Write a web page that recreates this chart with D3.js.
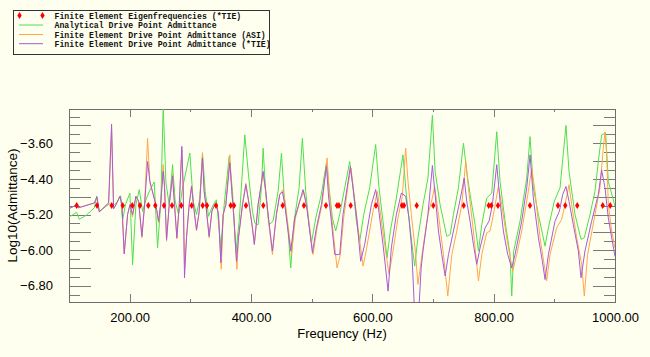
<!DOCTYPE html>
<html>
<head>
<meta charset="utf-8">
<script src="https://cdn.jsdelivr.net/npm/d3@7"></script>
<style>
  html, body { margin: 0; padding: 0; background: #ffffef; }
  svg { display: block; }
</style>
</head>
<body>
<svg id="chart" width="650" height="357"></svg>
<script>
// ---------------- data ----------------
const eigenFreqs = [112.7,146.2,170.4,188.5,204.3,217,230.7,242.2,256.6,269.8,285.1,302.2,320.4,327.5,342.3,366.5,372,391.7,420.3,452.2,487.3,523.6,541.7,545,564.3,606,648.9,652.2,673.1,700.5,750.6,791.8,796.1,807.1,859.8,906,918,937.8,979.7,992.2];
const eigenLevel = -5.0;

const analyticalDPA = [[100,-5.26],[112.6,-5.15],[116.9,-5.31],[128,-5.22],[141.7,-5.05],[145.6,-4.79],[150,-5.13],[166.4,-4.96],[174.6,-4.99],[180.1,-4.9],[185.2,-4.78],[188.3,-5.33],[193,-4.98],[200.4,-4.72],[204.8,-6.33],[210.3,-4.98],[215.8,-4.64],[221.3,-5.13],[226.8,-4.87],[232.3,-4.68],[240.5,-4.47],[246,-5.95],[251.5,-4.9],[255.3,-2.78],[259.8,-4.49],[265.2,-4.98],[270.7,-4.08],[275,-4.9],[280.6,-5.2],[287.2,-4.6],[299.2,-3.82],[304.7,-4.9],[310.2,-5.2],[315.7,-4.83],[320.1,-3.84],[324.5,-4.68],[330,-5.24],[336.6,-5.01],[343.1,-4.87],[350.3,-5.95],[355.8,-4.98],[364,-3.9],[369.5,-4.68],[375,-6.06],[380.5,-5.35],[389.8,-3.41],[395.9,-4.31],[402.4,-5.13],[406.2,-5.39],[411.7,-5.43],[417.2,-4.6],[420,-3.71],[424.4,-4.75],[429.8,-5.43],[436.4,-5.35],[444.7,-4.68],[450.2,-3.82],[454.5,-4.75],[461.1,-5.57],[465.5,-6.4],[471,-5.35],[479.3,-4.6],[484.7,-3.49],[490.2,-4.68],[495.7,-5.43],[499.6,-5.84],[506.7,-5.28],[516,-4.75],[524.3,-4.04],[528.7,-4.6],[534.2,-5.28],[539.6,-5.57],[546.2,-5.2],[554.5,-4.6],[562.7,-4.01],[568.2,-4.6],[573.7,-5.35],[579.2,-5.8],[585.8,-5.2],[595.6,-4.6],[605.5,-3.63],[611,-4.6],[617.6,-5.35],[624.2,-6.17],[629.7,-5.57],[639.6,-4.83],[650.5,-3.86],[656,-4.75],[661.5,-5.43],[669.8,-6.36],[675.2,-5.72],[683.5,-4.98],[691.7,-4.38],[699,-2.97],[703.5,-4.23],[711.7,-4.98],[722.7,-5.69],[728.2,-5.65],[733.7,-5.2],[741.9,-4.6],[750.2,-3.6],[755.6,-4.23],[761.1,-4.75],[769.4,-5.43],[774.9,-6.02],[780.4,-5.43],[788.6,-4.83],[796.8,-4.72],[805.1,-3.34],[810.5,-4.46],[818.8,-5.35],[827,-6.1],[829.8,-7.03],[833.1,-6.02],[843.5,-5.35],[854.5,-4.38],[860,-3.45],[865.4,-4.6],[873.7,-5.2],[884.7,-5.91],[890.2,-5.5],[900,-4.9],[909.4,-4.6],[919.2,-3.2],[924.2,-4.23],[934.1,-5.2],[944,-5.76],[949.4,-5.72],[958.8,-5.2],[967,-4.68],[972.5,-4.01],[978,-3.41],[984.6,-3.37],[989,-4.46],[1000,-5.01]];

const feASI = [[100,-5.07],[111.5,-4.99],[115.3,-5.05],[141.7,-4.94],[146,-4.83],[150,-5.14],[165.3,-4.94],[170.2,-3.3],[173.5,-5.07],[177.4,-4.98],[184,-4.79],[187.2,-4.98],[191,-6.08],[196.6,-5.2],[200.4,-4.98],[204.8,-5.25],[210.3,-4.79],[214.7,-4.9],[220.2,-5.72],[224.6,-4.98],[229.5,-3.49],[233.3,-4.46],[238.8,-4.75],[243.2,-4.98],[247.6,-5.38],[251,-4.98],[255.3,-4.08],[257.5,-4.55],[260.8,-5.8],[265.2,-4.98],[270.7,-4.3],[275.1,-5.2],[277.8,-5.75],[281.7,-4.98],[286,-3.75],[288.2,-4.6],[290.4,-6.4],[293.7,-5.72],[298.1,-4.98],[302,-4.55],[306.4,-5.13],[310.2,-5.57],[314.6,-5.13],[320,-3.81],[322.8,-4.68],[325.6,-4.98],[331,-5.72],[335.5,-5.13],[339.9,-4.98],[343.1,-4.98],[346.4,-5.2],[351,-6.43],[354.1,-5.2],[358.5,-4.98],[365.1,-3.86],[368.4,-4.68],[372.2,-5.35],[376.8,-6.43],[379.4,-5.72],[386,-4.98],[391.5,-4.5],[397,-4.98],[402.4,-5.5],[405.5,-5.87],[411.7,-4.98],[420,-4.27],[424.4,-4.72],[428.2,-5.28],[435.3,-6.1],[441.9,-5.2],[447.4,-4.75],[452.9,-4.64],[456.8,-4.98],[462.2,-5.57],[466.6,-6.1],[473.2,-5.28],[480.4,-4.9],[487,-4.68],[492.4,-5.05],[497.9,-5.61],[502.3,-6.1],[508.9,-5.5],[517.1,-4.98],[525.4,-3.93],[529.8,-4.83],[535.3,-5.57],[541.8,-6.4],[547.3,-6.1],[552.8,-5.28],[560,-4.53],[564.9,-4.16],[569.3,-4.68],[576.4,-5.5],[584.7,-6.36],[590.2,-5.99],[601.1,-5.13],[608.3,-4.68],[612.1,-5.05],[620.3,-5.87],[627.5,-6.54],[634.1,-6.02],[642.3,-5.28],[649.4,-4.79],[655,-3.71],[658.8,-4.46],[664.3,-5.2],[670.9,-6.02],[675.2,-6.77],[683.5,-5.95],[691.7,-5.2],[698.9,-4.83],[702.7,-4.57],[709,-5.2],[717.2,-6.1],[724.4,-7.03],[731,-6.1],[739.2,-5.57],[747.4,-4.98],[754,-4.0],[758.4,-4.6],[766.6,-5.57],[774.9,-6.69],[780.4,-6.1],[788.6,-5.61],[794.1,-5.57],[799.6,-5.2],[807.8,-4.57],[813.3,-4.98],[821.5,-5.72],[831.4,-6.47],[838,-6.1],[846.2,-5.57],[857.2,-4.68],[862.7,-4.16],[868.2,-4.68],[876.4,-5.72],[887.4,-6.69],[892.9,-6.1],[903.9,-5.5],[912.1,-5.31],[917.6,-4.98],[924.2,-4.53],[928.6,-4.98],[936.8,-5.72],[945,-6.32],[949.4,-7.03],[954.9,-6.1],[967,-5.2],[975.2,-4.6],[980.7,-3.71],[983.5,-3.34],[986.3,-3.86],[989,-4.98],[994.5,-5.57],[1000,-5.95]];

const feTIE = [[100,-5.07],[111.5,-4.99],[115.3,-5.05],[141.7,-4.94],[146,-4.8],[150,-5.14],[165.3,-4.94],[170.2,-3.17],[173.5,-5.07],[177.4,-4.98],[184,-4.79],[187.2,-4.98],[191,-6.08],[196.6,-5.2],[200.4,-4.98],[204.8,-5.2],[210.3,-4.79],[214.7,-4.9],[220.2,-5.69],[224.6,-4.98],[229.5,-4.01],[233.3,-4.46],[238.8,-4.75],[243.2,-4.98],[247.6,-5.35],[251,-4.98],[255.3,-4.23],[257.5,-4.6],[260.8,-5.76],[265.2,-4.98],[270.7,-4.34],[275.1,-5.2],[277.8,-5.72],[281.7,-4.98],[286,-3.67],[288.2,-4.6],[290.4,-6.62],[293.7,-5.72],[298.1,-4.98],[302,-4.57],[306.4,-5.13],[310.2,-5.54],[314.6,-5.13],[320,-3.93],[322.8,-4.68],[325.6,-4.98],[331,-5.69],[335.5,-5.13],[339.9,-4.98],[343.1,-4.98],[346.4,-5.2],[350.3,-6.28],[354.1,-5.2],[358.5,-4.98],[365.1,-4.04],[368.4,-4.68],[372.2,-5.35],[376.1,-6.25],[379.4,-5.72],[386,-4.98],[391.5,-4.53],[397,-4.98],[402.4,-5.5],[405.5,-5.87],[411.7,-4.98],[420,-4.23],[424.4,-4.68],[428.2,-5.2],[435.3,-6.02],[441.9,-5.2],[447.4,-4.75],[451.8,-4.69],[455.6,-4.98],[461.1,-5.57],[465.5,-6.02],[472.1,-5.28],[480.4,-4.9],[485.8,-4.64],[491.3,-4.98],[496.8,-5.57],[501.2,-6.06],[507.8,-5.5],[516,-4.98],[524.3,-4.12],[528.1,-4.83],[532.5,-5.35],[538,-6.1],[546.2,-6.1],[551.7,-5.2],[560,-4.46],[563.8,-4.12],[568.2,-4.6],[574.8,-5.35],[580.8,-6.25],[587.4,-5.87],[598.4,-4.98],[605.5,-4.64],[609.4,-4.98],[617.6,-5.87],[626,-6.92],[631.3,-5.95],[639.6,-5.2],[647.8,-4.72],[655,-4.79],[660.4,-5.28],[665,-6.0],[670,-7.5],[676,-7.5],[680.5,-6.4],[683.5,-6.02],[691.7,-5.2],[699,-4.1],[703.5,-4.75],[709,-5.57],[714.5,-6.1],[720,-6.58],[725.5,-6.1],[733.7,-5.57],[741.9,-5.05],[748.5,-4.6],[751.3,-4.38],[755.6,-4.9],[761.1,-5.35],[766.6,-5.87],[772.1,-6.32],[777.6,-5.95],[785.8,-5.5],[792.4,-5.35],[797.9,-4.98],[805.1,-4.08],[810.5,-4.9],[816,-5.57],[823.2,-6.1],[829.8,-6.4],[835.3,-6.1],[846.2,-5.35],[854.5,-4.6],[860,-3.86],[865.4,-4.83],[873.7,-5.72],[880.3,-6.25],[884.7,-6.66],[890.2,-6.1],[901.1,-5.35],[908.3,-5.13],[913.8,-4.75],[919.2,-4.57],[924.2,-4.9],[931.3,-5.43],[939.6,-6.02],[944,-6.62],[950.5,-6.02],[961.5,-5.35],[972.5,-4.75],[978,-4.2],[983.5,-4.6],[989,-5.28],[994.5,-5.72],[1000,-6.14]];

const xLabelTicks = [200, 400, 600, 800, 1000];
const xMinorTicks = [300, 500, 700, 900];
const yLabelTicks = [-3.6, -4.4, -5.2, -6.0, -6.8];
const yLongTicks = [-3.2, -3.6, -4.0, -4.4, -4.8, -5.2, -5.6, -6.0, -6.4, -6.8];
const yShortTicks = [-3.0, -3.4, -3.8, -4.2, -4.6, -5.0, -5.4, -5.8, -6.2, -6.6, -7.0];

const legendItems = [
  {label: "Finite Element Eigenfrequencies (*TIE)", type: "marker"},
  {label: "Analytical Drive Point Admittance", type: "line", color: "#4ee04e"},
  {label: "Finite Element Drive Point Admittance (ASI)", type: "line", color: "#ffa64d"},
  {label: "Finite Element Drive Point Admittance (*TIE)", type: "line", color: "#a75bd8"}
];

// ---------------- layout ----------------
const svg = d3.select("#chart");
const plot = {left: 69, right: 615, top: 109, bottom: 302};
const x = d3.scaleLinear().domain([100, 1000]).range([plot.left, plot.right]);
const y = d3.scaleLinear().domain([-7.165, -2.83]).range([plot.bottom, plot.top]);

svg.append("rect").attr("width", 650).attr("height", 357).attr("fill", "#ffffef");

svg.append("defs").append("clipPath").attr("id", "clip")
  .append("rect").attr("x", plot.left).attr("y", plot.top)
  .attr("width", plot.right - plot.left).attr("height", plot.bottom - plot.top);

const tickColor = "#7a7a7a";
function styleTicks(g) {
  g.select(".domain").remove();
  g.selectAll("line").attr("stroke", tickColor).attr("shape-rendering", "crispEdges");
  g.selectAll("text").remove();
}

// y ticks, left and right (inward)
svg.append("g").attr("transform", `translate(${plot.left},0)`)
  .call(d3.axisLeft(y).tickValues(yLongTicks).tickSize(-22)).call(styleTicks);
svg.append("g").attr("transform", `translate(${plot.left},0)`)
  .call(d3.axisLeft(y).tickValues(yShortTicks).tickSize(-11)).call(styleTicks);
svg.append("g").attr("transform", `translate(${plot.right},0)`)
  .call(d3.axisRight(y).tickValues(yLongTicks).tickSize(-22)).call(styleTicks);
svg.append("g").attr("transform", `translate(${plot.right},0)`)
  .call(d3.axisRight(y).tickValues(yShortTicks).tickSize(-11)).call(styleTicks);
// x ticks, bottom and top (inward)
svg.append("g").attr("transform", `translate(0,${plot.bottom})`)
  .call(d3.axisBottom(x).tickValues(xLabelTicks.filter(d => d < 1000)).tickSize(-8)).call(styleTicks);
svg.append("g").attr("transform", `translate(0,${plot.bottom})`)
  .call(d3.axisBottom(x).tickValues(xMinorTicks).tickSize(-3)).call(styleTicks);
svg.append("g").attr("transform", `translate(0,${plot.top})`)
  .call(d3.axisTop(x).tickValues(xLabelTicks.filter(d => d < 1000)).tickSize(-8)).call(styleTicks);
svg.append("g").attr("transform", `translate(0,${plot.top})`)
  .call(d3.axisTop(x).tickValues(xMinorTicks).tickSize(-3)).call(styleTicks);

// frame
svg.append("rect")
  .attr("x", plot.left + 0.5).attr("y", plot.top + 0.5)
  .attr("width", plot.right - plot.left).attr("height", plot.bottom - plot.top)
  .attr("fill", "none").attr("stroke", "#6e6e6e").attr("stroke-width", 1);

// tick labels
const labelFont = "'Liberation Sans', Arial, Helvetica, sans-serif";
const yLab = svg.append("g").attr("transform", `translate(${plot.left},0)`)
  .call(d3.axisLeft(y).tickValues(yLabelTicks).tickSize(0).tickPadding(16).tickFormat(d3.format(".2f")));
yLab.select(".domain").remove();
yLab.selectAll("text").attr("font-family", labelFont).attr("font-size", 13).attr("fill", "#000");

const xLab = svg.append("g").attr("transform", `translate(0,${plot.bottom})`)
  .call(d3.axisBottom(x).tickValues(xLabelTicks).tickSize(0).tickPadding(11).tickFormat(d3.format(".2f")));
xLab.select(".domain").remove();
xLab.selectAll("text").attr("font-family", labelFont).attr("font-size", 13).attr("fill", "#000");

// axis titles
svg.append("text").attr("x", 342).attr("y", 337.5)
  .attr("text-anchor", "middle").attr("font-family", labelFont).attr("font-size", 13)
  .text("Frequency (Hz)");
svg.append("text")
  .attr("transform", `translate(17,${(plot.top + plot.bottom) / 2}) rotate(-90)`)
  .attr("text-anchor", "middle").attr("font-family", labelFont).attr("font-size", 13.5)
  .text("Log10(Admittance)");

// series
const line = d3.line().x(d => x(d[0])).y(d => y(d[1]));
const lines = svg.append("g").attr("clip-path", "url(#clip)");
lines.append("path").datum(analyticalDPA).attr("d", line)
  .attr("fill", "none").attr("stroke", legendItems[1].color).attr("stroke-width", 1);
lines.append("path").datum(feASI).attr("d", line)
  .attr("fill", "none").attr("stroke", legendItems[2].color).attr("stroke-width", 1);
lines.append("path").datum(feTIE).attr("d", line)
  .attr("fill", "none").attr("stroke", legendItems[3].color).attr("stroke-width", 1);

const diamond = "M0,-3.5L2.2,0L0,3.5L-2.2,0Z";
lines.selectAll(".eig").data(eigenFreqs).enter().append("path")
  .attr("class", "eig")
  .attr("transform", d => `translate(${x(d)},${y(eigenLevel)})`)
  .attr("d", diamond).attr("fill", "#ff0000");

// legend
const lg = svg.append("g").attr("class", "legend");
lg.append("path")
  .attr("d", "M13.5,10.5H269.5V54.5H13.5Z")
  .attr("fill", "none").attr("stroke", "#333333").attr("stroke-width", 1.2)
  .attr("shape-rendering", "crispEdges");
const rowY = [15.5, 25, 34.5, 43.7];
legendItems.forEach((it, i) => {
  const ry = rowY[i];
  if (it.type === "marker") {
    [19.5, 42.5].forEach(mx => lg.append("path").attr("d", diamond)
      .attr("transform", `translate(${mx},${ry})`).attr("fill", "#ff0000"));
  } else {
    lg.append("line").attr("x1", 19).attr("x2", 43).attr("y1", ry).attr("y2", ry)
      .attr("stroke", it.color).attr("stroke-width", 1);
  }
  lg.append("text").attr("x", 54.5).attr("y", ry + 3)
    .attr("font-family", "'Liberation Mono', 'Courier New', monospace")
    .attr("font-size", 8.2).attr("font-weight", "bold").attr("fill", "#111")
    .text(it.label);
});
</script>
</body>
</html>
